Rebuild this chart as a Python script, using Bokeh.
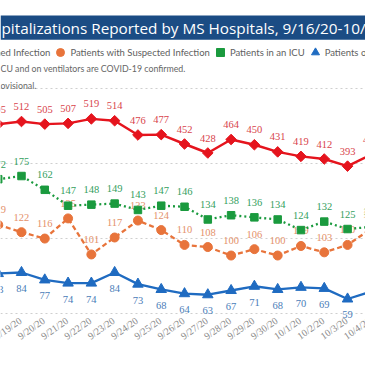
import math
from bokeh.plotting import figure
from bokeh.models import (ColumnDataSource, Range1d, Grid, FixedTicker,
                          BoxAnnotation, Label, Legend, LegendItem)
from bokeh.core.properties import value
from bokeh.embed import file_html
from bokeh.resources import INLINE

# ---------------- data ----------------
dates = ["9/18/20", "9/19/20", "9/20/20", "9/21/20", "9/22/20", "9/23/20",
         "9/24/20", "9/25/20", "9/26/20", "9/27/20", "9/28/20", "9/29/20",
         "9/30/20", "10/1/20", "10/2/20", "10/3/20", "10/4/20"]
confirmed = [505, 512, 505, 507, 519, 514, 476, 477, 452, 428, 464, 450,
             431, 419, 412, 393, 423]
suspected = [129, 122, 116, 135, 101, 117, 133, 124, 110, 108, 100, 106,
             100, 109, 103, 110, 125]
icu = [172, 175, 162, 147, 148, 149, 143, 147, 146, 134, 138, 136,
       134, 124, 132, 125, 127]
ventilators = [83, 84, 77, 74, 74, 84, 73, 68, 64, 63, 67, 71,
               68, 70, 69, 59, 66]
series_names = ["Patients with Confirmed Infection",
                "Patients with Suspected Infection",
                "Patients in an ICU",
                "Patients on Ventilators"]
title_text = "pitalizations Reported by MS Hospitals, 9/16/20-10/"
note_lines = ["CU and on ventilators are COVID-19 confirmed.", "ovisional."]
grid_values = [0, 200, 400, 600]

# ---------------- geometry (reference pixel calibration) ----------------
W = H = 365
X0_REF, DX_REF = -2.3, 23.29


def xi(px):
    return (px - X0_REF) / DX_REF


def yp(py):  # primary axis (confirmed)
    return (313.0 - py) / 0.375


def ys(py):  # secondary axis (other series)
    return 122.0 - (py - 231.7) / 1.06


RED, RED_L = "#E5141D", "#D8434B"
ORANGE, ORANGE_L = "#E8743B", "#E4916A"
GREEN, GREEN_L = "#1A9A3E", "#34A05E"
BLUE, BLUE_L = "#1F6BC1", "#4A7DB8"
LBL_FONT = value("Liberation Sans Narrow")
TXT_FONT = "Lato"

p = figure(width=W, height=H, output_backend="svg", toolbar_location=None,
           x_range=Range1d(xi(0), xi(W)), y_range=Range1d(yp(H), yp(0)),
           x_axis_location=None, y_axis_location=None, min_border=0,
           outline_line_color=None, background_fill_color="white",
           border_fill_color="white")
p.extra_y_ranges = {"sec": Range1d(ys(H), ys(0))}
p.grid.visible = False
p.add_layout(Grid(dimension=1, ticker=FixedTicker(ticks=grid_values),
                  grid_line_color="#CFCFCF", grid_line_dash="2 3",
                  grid_line_width=1))

src = ColumnDataSource(dict(
    x=list(range(len(dates))), date=dates,
    confirmed=confirmed, suspected=suspected, icu=icu, vent=ventilators,
    confirmed_lbl=[str(v) for v in confirmed],
    suspected_lbl=[str(v) for v in suspected],
    icu_lbl=[str(v) for v in icu],
    vent_lbl=[str(v) for v in ventilators],
))

lbl_kw = dict(text_align="center", text_baseline="middle",
              text_font=LBL_FONT, text_font_size="10.5px")

# confirmed (primary axis)
p.line("x", "confirmed", source=src, color=RED, line_width=2.5)
r_conf = p.scatter("x", "confirmed", source=src, marker="square", angle=math.pi / 4,
                   size=7.5, color=RED)
p.text("x", "confirmed", text="confirmed_lbl", source=src, y_offset=-15,
       text_color=RED_L, **lbl_kw)

# suspected
p.line("x", "suspected", source=src, y_range_name="sec", color=ORANGE,
       line_width=2.3, line_dash="5 3")
r_susp = p.scatter("x", "suspected", source=src, y_range_name="sec",
                   marker="circle", size=9, color=ORANGE)
p.text("x", "suspected", text="suspected_lbl", source=src, y_range_name="sec",
       y_offset=-15, text_color=ORANGE_L, **lbl_kw)

# ICU
p.line("x", "icu", source=src, y_range_name="sec", color=GREEN,
       line_width=2.3, line_dash="2 3")
r_icu = p.scatter("x", "icu", source=src, y_range_name="sec",
                  marker="square", size=7.5, color=GREEN)
p.text("x", "icu", text="icu_lbl", source=src, y_range_name="sec",
       y_offset=-15, text_color=GREEN_L, **lbl_kw)

# ventilators
p.line("x", "vent", source=src, y_range_name="sec", color=BLUE, line_width=2.3)
r_vent = p.scatter("x", "vent", source=src, y_range_name="sec",
                   marker="triangle", size=10.5, color=BLUE)
p.text("x", "vent", text="vent_lbl", source=src, y_range_name="sec",
       y_offset=16, text_color=BLUE_L, **lbl_kw)

# date labels along the bottom
p.text("x", yp(319), text="date", source=src, angle=math.radians(35),
       x_offset=-1, text_align="right", text_baseline="middle",
       text_font=LBL_FONT, text_font_size="10px", text_color="#8A8A8A")

# title banner
p.add_layout(BoxAnnotation(top=yp(15), bottom=yp(39.3), fill_color="#1B4C84",
                           fill_alpha=1.0, line_color=None, level="underlay"))
p.add_layout(Label(x=1, x_units="screen", y=yp(27), text=title_text,
                   text_color="white", text_baseline="middle",
                   text_font="Open Sans", text_font_size="15.3px"))

# notes
for line_text, ry in zip(note_lines, [68, 84.5]):
    p.add_layout(Label(x=0, x_units="screen", y=yp(ry), text=line_text,
                       text_color="#666666", text_baseline="middle",
                       text_font=TXT_FONT, text_font_size="8.8px"))

# legend (cropped at the left edge like the reference)
legend = Legend(items=[LegendItem(label=n, renderers=[r])
                       for n, r in zip(series_names, [r_conf, r_susp, r_icu, r_vent])],
                orientation="horizontal", location=(-110, 303),
                border_line_color=None, background_fill_alpha=0.0,
                padding=0, margin=0, spacing=0, label_standoff=0,
                glyph_width=20, glyph_height=20, label_height=12,
                label_text_font=TXT_FONT, label_text_font_size="9.5px",
                label_text_color="#606060")
p.add_layout(legend)

open("out.html", "w").write(file_html(p, INLINE))
